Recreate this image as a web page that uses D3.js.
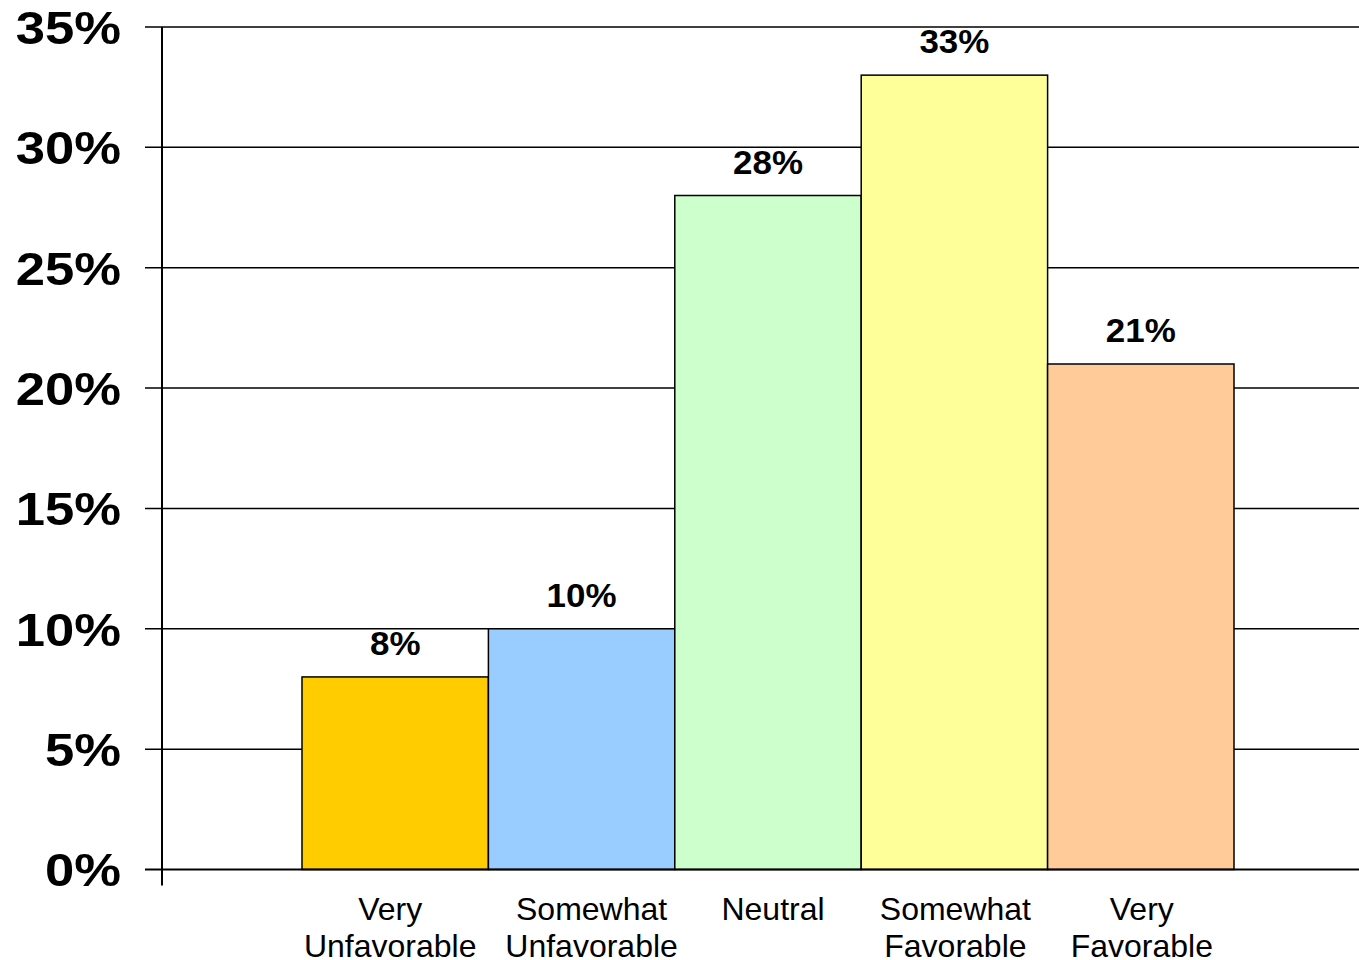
<!DOCTYPE html>
<html><head><meta charset="utf-8">
<script src="https://cdn.jsdelivr.net/npm/d3@7"></script>
<style>html,body{margin:0;padding:0;background:#fff;}svg{display:block;}</style>
</head><body>
<svg id="chart" width="1359" height="960"></svg>
<script>
const categories = [["Very","Unfavorable"],["Somewhat","Unfavorable"],["Neutral"],["Somewhat","Favorable"],["Very","Favorable"]];
const values = [8, 10, 28, 33, 21];
const colors = ["#FFCC00","#99CCFF","#CCFFCC","#FFFF99","#FFCC99"];
const yTicks = [0,5,10,15,20,25,30,35];

// layout-only nudges for category label centres (as in the original's text boxes)
const labelDx = [-5, 10, 5, 1, 1];

const svg = d3.select("#chart");
const keys = categories.map(c => c.join(" "));
const y = d3.scaleLinear().domain([0,35]).range([869.5, 27]);
const x = d3.scaleBand().domain(keys).range([302, 1234]).padding(0);
const axisX = 162, rightX = 1359;
const font = "'Liberation Sans', Arial, sans-serif";

// gridlines + ticks
svg.append("g").selectAll("line").data(yTicks.filter(d => d>0)).join("line")
  .attr("x1", axisX-17).attr("x2", rightX)
  .attr("y1", d => y(d)).attr("y2", d => y(d))
  .attr("stroke", "#000").attr("stroke-width", 1.5);

// bars
svg.append("g").selectAll("rect").data(values).join("rect")
  .attr("x", (d,i) => x(keys[i]))
  .attr("y", d => y(d))
  .attr("width", x.bandwidth())
  .attr("height", d => y(0) - y(d))
  .attr("fill", (d,i) => colors[i])
  .attr("stroke", "#000").attr("stroke-width", 1.5);

// zero line
svg.append("line").attr("x1", axisX-17).attr("x2", rightX)
  .attr("y1", y(0)).attr("y2", y(0)).attr("stroke","#000").attr("stroke-width", 2);
// vertical axis
svg.append("line").attr("x1", axisX).attr("x2", axisX)
  .attr("y1", y(35)).attr("y2", y(0)+16).attr("stroke","#000").attr("stroke-width", 2);

// y labels (horizontally stretched like the original)
svg.append("g").selectAll("text").data(yTicks).join("text")
  .attr("transform", d => `translate(121,${y(d)}) scale(1.12,1)`)
  .attr("dy", "0.36em")
  .attr("text-anchor", "end")
  .style("font-family", font).style("font-weight", "bold").style("font-size", "47px")
  .text(d => d + "%");

// value labels
svg.append("g").selectAll("text").data(values).join("text")
  .attr("transform", (d,i) => `translate(${x(keys[i]) + x.bandwidth()/2},${y(d) - 22}) scale(1.06,1)`)
  .attr("text-anchor", "middle")
  .style("font-family", font).style("font-weight", "bold").style("font-size", "33px")
  .text(d => d + "%");

// category labels
const cl = svg.append("g").selectAll("text").data(categories).join("text")
  .attr("text-anchor", "middle")
  .style("font-family", font).style("font-size", "32px");
cl.each(function(lines, i){
  const t = d3.select(this);
  lines.forEach((ln, j) => {
    t.append("tspan").attr("x", x(keys[i]) + x.bandwidth()/2 + labelDx[i]).attr("y", 920 + j*37).text(ln);
  });
});
</script>
</body></html>
